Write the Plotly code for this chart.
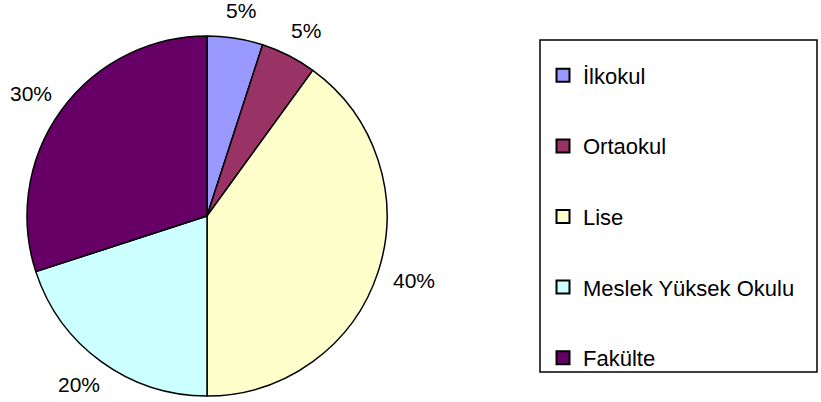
import math
import plotly.graph_objects as go

categories = ["İlkokul", "Ortaokul", "Lise", "Meslek Yüksek Okulu", "Fakülte"]
values = [5, 5, 40, 20, 30]
colors = ["#9999FF", "#993366", "#FFFFCC", "#CCFFFF", "#660066"]

W, H = 821, 402
FONT = "Liberation Sans, Arial, sans-serif"

# pie geometry (pixels)
CX, CY, R = 207, 216, 180
LABEL_RX, LABEL_RY = 218, 208

fig = go.Figure()

fig.add_trace(go.Pie(
    labels=categories,
    values=values,
    marker=dict(colors=colors, line=dict(color="black", width=1.5)),
    sort=False,
    direction="clockwise",
    rotation=0,
    textinfo="none",
    showlegend=False,
    hoverinfo="label+percent",
    domain=dict(x=[(CX - R) / W, (CX + R) / W], y=[(H - CY - R) / H, (H - CY + R) / H]),
))

# percent labels placed outside each slice at its mid angle
total = sum(values)
cum = 0
annotations = []
for v in values:
    mid = (cum + v / 2) / total * 2 * math.pi
    cum += v
    px = CX + LABEL_RX * math.sin(mid)
    py = CY - LABEL_RY * math.cos(mid)
    annotations.append(dict(
        x=px / W, y=1 - py / H, xref="paper", yref="paper",
        text=f"{round(v / total * 100)}%", showarrow=False,
        xanchor="center", yanchor="middle",
        font=dict(family=FONT, size=21, color="black"),
    ))

# legend entries (one group each so that spacing can be controlled)
for name, col in zip(categories, colors):
    fig.add_trace(go.Scatter(
        x=[None], y=[None], mode="markers", name=name,
        legendgroup=name,
        marker=dict(symbol="square", size=13, color=col,
                    line=dict(color="black", width=2)),
        showlegend=True,
    ))

fig.update_layout(
    width=W, height=H,
    margin=dict(l=0, r=0, t=0, b=0),
    paper_bgcolor="white",
    plot_bgcolor="white",
    xaxis=dict(visible=False),
    yaxis=dict(visible=False),
    font=dict(family=FONT, size=21, color="black"),
    legend=dict(
        x=543 / W, y=1 - 54.5 / H, xanchor="left", yanchor="top",
        bgcolor="rgba(0,0,0,0)", borderwidth=0,
        tracegroupgap=39, itemwidth=30,
        font=dict(family=FONT, size=22, color="black"),
    ),
    annotations=annotations,
    shapes=[dict(type="rect", xref="paper", yref="paper",
                 x0=540 / W, x1=817 / W, y0=1 - 372 / H, y1=1 - 40 / H,
                 line=dict(color="black", width=1.5), fillcolor="rgba(0,0,0,0)")],
)

fig.write_html("out.html", config={"displayModeBar": False},
               post_script="document.body.style.margin='0';")
